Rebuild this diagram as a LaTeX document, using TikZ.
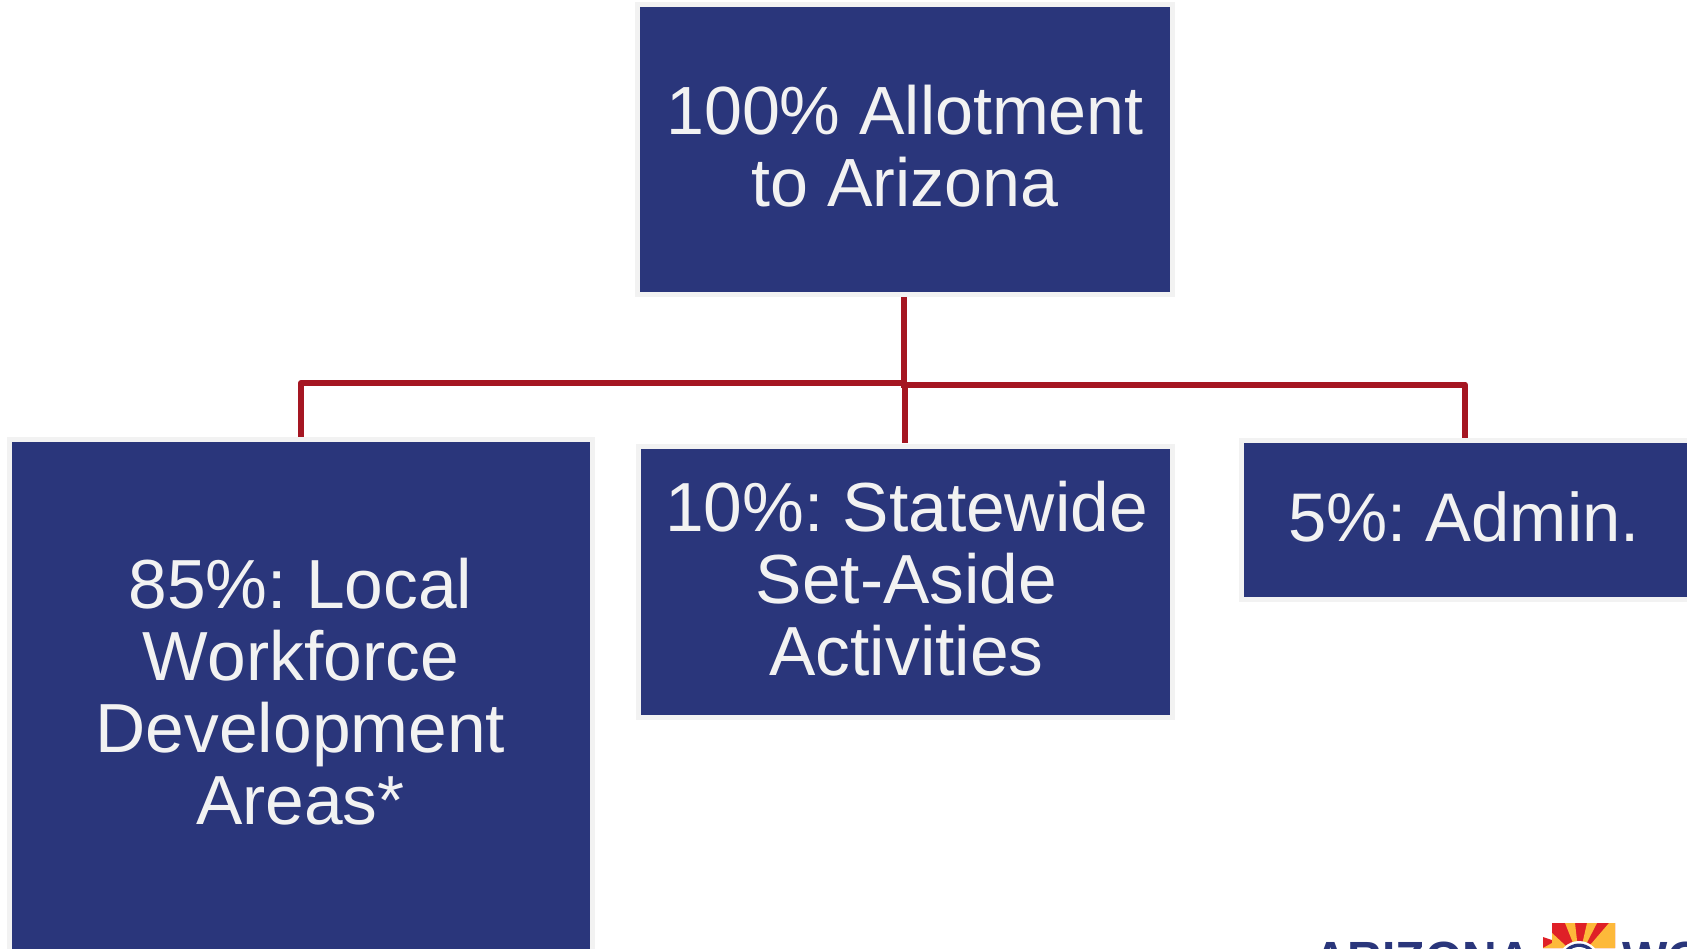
\documentclass[tikz,border=0pt]{standalone}
\usepackage{fontspec}
\setmainfont[Kerning=Off]{Liberation Sans}
\definecolor{boxblue}{HTML}{2A367B}
\definecolor{boxedge}{HTML}{F2F2F2}
\definecolor{linkred}{HTML}{A51622}
\definecolor{sunred}{HTML}{DF2027}
\definecolor{sunyellow}{HTML}{FDB93A}
\tikzset{
  x=1pt,y=-1pt,
  boxnode/.style={fill=boxblue,draw=boxedge,line width=5pt,inner sep=0pt,outer sep=0pt,anchor=north west},
  boxlabel/.style={inner sep=0pt,text=boxedge,align=center,font=\fontsize{#1}{72}\selectfont},
  link/.style={draw=linkred,line width=6pt,line join=round},
  logotext/.style={inner sep=0pt,anchor=base west,text=boxblue,font=\fontsize{48}{48}\selectfont\bfseries}
}
\begin{document}
\frenchspacing
\begin{tikzpicture}
\useasboundingbox (0,0) rectangle (1687,948);
\clip (0,0) rectangle (1687,948);
\node[boxnode,minimum width=535pt,minimum height=290pt] (top) at (637.5,4) {};
\node[boxnode,minimum width=583pt,minimum height=545pt] (local) at (9.5,439.5) {};
\node[boxnode,minimum width=534pt,minimum height=271pt] (state) at (638.5,446.5) {};
\node[boxnode,minimum width=465pt,minimum height=159pt] (admin) at (1241.5,440.5) {};
\node[boxlabel=68.2] (toptext) at ([yshift=3.2pt]top.center) {100\% Allotment\\to Arizona};
\node[boxlabel=69.5] (localtext) at (300.5,692) {85\%: Local\\Workforce\\Development\\Areas*};
\node[boxlabel=69.5] (statetext) at ([shift={(1pt,3.8pt)}]state.center) {10\%: Statewide\\Set-Aside\\Activities};
\node[boxlabel=68.8] (admintext) at ([shift={(-10pt,3.2pt)}]admin.center) {5\%: Admin.};
\coordinate (hubL) at (904,383);
\coordinate (hubR) at (904,384.5);
\coordinate (hubM) at (904.5,384);
\coordinate (feed) at (904,297);
\coordinate (feedEnd) at (904,388);
\coordinate (dropL) at (301,383);
\coordinate (dropR) at (1465,384.5);
\draw[link] (feed) -- (feedEnd);
\draw[link] (hubL) -- (dropL) -- (301,437);
\draw[link] (hubR) -- (dropR) -- (1465,438);
\draw[link] (hubM) -- (904.5,443);
% logo
\node[logotext] (logoa) at (1313,975) {ARIZONA};
\node[logotext] (logob) at (1622,975) {WO};
\begin{scope}
\clip (1552,923) -- (1615,923) -- (1615,948) -- (1543,948) -- (1543,937) -- (1552,940) -- cycle;
\fill[sunred] (1540,920) rectangle (1618,950);
\fill[sunyellow] (1579,958) -- (1552,933) -- (1552,943) -- (1543,948) -- (1565,948) -- cycle;
\fill[sunyellow] (1579,958) -- (1565,923) -- (1575,923) -- cycle;
\fill[sunyellow] (1579,958) -- (1587,923) -- (1597,923) -- cycle;
\fill[sunyellow] (1579,958) -- (1609,923) -- (1615,923) -- (1615,948) -- cycle;
\end{scope}
\fill[white] (1579,962) circle (21);
\fill[boxblue] (1579,962) circle (18.5);
\fill[white] (1579,962) circle (15);
\end{tikzpicture}
\end{document}
